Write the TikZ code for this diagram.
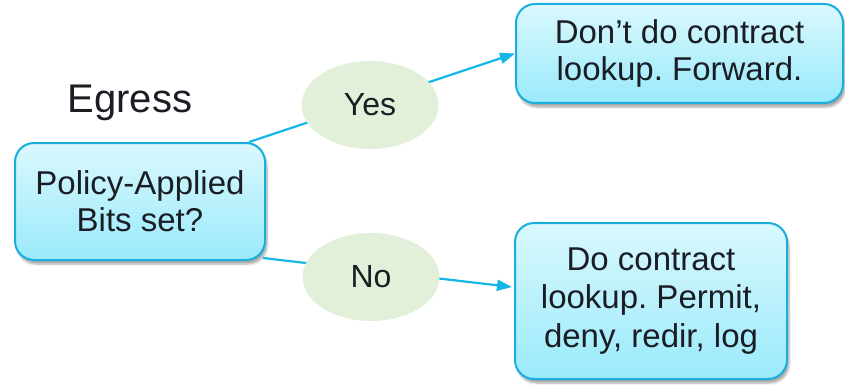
\documentclass[tikz,border=0pt]{standalone}
\usepackage{fontspec}
\setmainfont{Liberation Sans}
\usetikzlibrary{shapes.geometric,arrows.meta,calc,shadows.blur}
\definecolor{boxtop}{HTML}{DAF8FD}
\definecolor{boxbot}{HTML}{9AEAFB}
\definecolor{boxline}{HTML}{19AEDF}
\definecolor{linkcol}{HTML}{14B6E8}
\definecolor{choicefill}{HTML}{E2F0D9}
\definecolor{txt}{HTML}{1A1E24}
\frenchspacing
\tikzset{
  stepbox/.style={draw=boxline, line width=2pt, rounded corners=19pt,
    top color=boxtop, bottom color=boxbot, align=center, text=txt,
    font=\fontsize{33}{37}\selectfont, inner sep=0pt,
    blur shadow={shadow xshift=2pt, shadow yshift=-4pt, shadow blur steps=6, shadow opacity=35}},
  choice/.style={ellipse, fill=choicefill, inner sep=0pt, text=txt,
    font=\fontsize{32}{36}\selectfont},
  link/.style={draw=linkcol, line width=2.2pt,
    -{Triangle[length=15pt,width=11pt]}},
}
\begin{document}
\begin{tikzpicture}[x=1pt,y=-1pt]
\useasboundingbox (0,0) rectangle (845,385);
% decision and outcome boxes
\node[stepbox, minimum width=250pt, minimum height=117pt] (check) at (140,201.5)
  {Policy-Applied\\Bits set?};
\node[stepbox, minimum width=327pt, minimum height=99pt] (skip) at (679.5,53.5)
  {Don’t do contract\\lookup. Forward.};
\node[stepbox, minimum width=272pt, minimum height=156pt,
  font=\fontsize{33}{38.5}\selectfont] (lookup) at (651,301)
  {Do contract\\lookup. Permit,\\deny, redir, log};
\node[text=txt, font=\fontsize{40}{44}\selectfont, anchor=base] (title) at (130,113) {Egress};
% connectors run beneath the answer labels
\draw[link] ($(check.north east)+(-17,0)$) -- (skip.west);
\draw[link] ($(check.south east)+(-3,-3)$) -- ($(lookup.west)+(-2,-14)$);
% answer labels
\node[choice, minimum width=137pt, minimum height=88pt] (yes) at (370,105) {Yes};
\node[choice, minimum width=137pt, minimum height=88pt] (no) at (371,277) {No};
\end{tikzpicture}
\end{document}
